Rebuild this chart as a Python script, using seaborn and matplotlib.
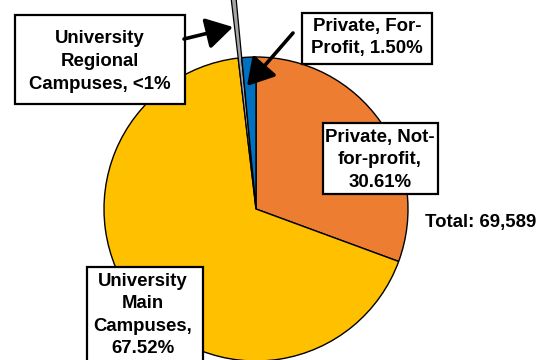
import matplotlib
matplotlib.use("Agg")
import matplotlib.pyplot as plt
import seaborn as sns
from matplotlib.patches import Rectangle

# Enrollment shares by institution type (percent of total)
segments = ["Private, Not-for-profit", "University Main Campuses",
            "University Regional Campuses", "Private, For-Profit"]
shares = [30.61, 67.52, 0.37, 1.50]
colors = ["#ED7D31", "#FFC000", "#A5A5A5", "#0070C0"]
callouts = ["Private, Not-\nfor-profit,\n30.61%",
            "University\nMain\nCampuses,\n67.52%",
            "University\nRegional\nCampuses, <1%",
            "Private, For-\nProfit, 1.50%"]
total_label = "Total: 69,589"

sns.set_theme(style="white")
plt.rcParams["font.family"] = ["Liberation Sans", "DejaVu Sans"]

W, H = 546, 360
fig = plt.figure(figsize=(W / 100, H / 100), dpi=100)
ax = fig.add_axes([0, 0, 1, 1])


def Y(y):
    # work in pixel units measured from the top edge
    return H - y


R = 152
wedges, _ = ax.pie(shares, colors=colors, startangle=90, counterclock=False,
                   radius=R, center=(256, Y(209)),
                   wedgeprops=dict(edgecolor="black", linewidth=1))
# the tiny regional slice is pulled out as a long sliver
wedges[2].set_radius(R * 1.45)
wedges[2].set_linewidth(0.9)

ax.set_xlim(0, W)
ax.set_ylim(0, H)
ax.set_aspect("auto")
ax.axis("off")

txt = dict(fontsize=13.4, fontweight="bold", ha="center", va="center",
           linespacing=1.43, color="black")

# callout boxes: (left, top, right, bottom) in pixels from the top-left
boxes = [(322.5, 123, 437.5, 194),
         (87, 267, 203, 380),
         (14.5, 14.5, 184.5, 104),
         (302, 12.5, 432, 63.5)]
text_centres = [(380, 160), (143, 315), (100, 61.5), (367, 37.5)]

for label, (l, t, r, b), (cx, cy) in zip(callouts, boxes, text_centres):
    ax.add_patch(Rectangle((l, Y(b)), r - l, b - t, facecolor="white",
                           edgecolor="black", linewidth=1.6, zorder=3))
    ax.text(cx, Y(cy), label, zorder=4, **txt)

arrow = dict(arrowstyle="-|>,head_length=0.85,head_width=0.5", lw=2.6,
             color="black", shrinkA=0, shrinkB=0, mutation_scale=19)
ax.annotate("", xy=(233, Y(27)), xytext=(184, Y(39)), arrowprops=arrow, zorder=5)
ax.annotate("", xy=(247, Y(86)), xytext=(293, Y(33)), arrowprops=arrow, zorder=5)

ax.text(481, Y(223), total_label, fontsize=13.4, fontweight="bold",
        ha="center", va="center", color="black")

fig.savefig("out.png", dpi=100)
